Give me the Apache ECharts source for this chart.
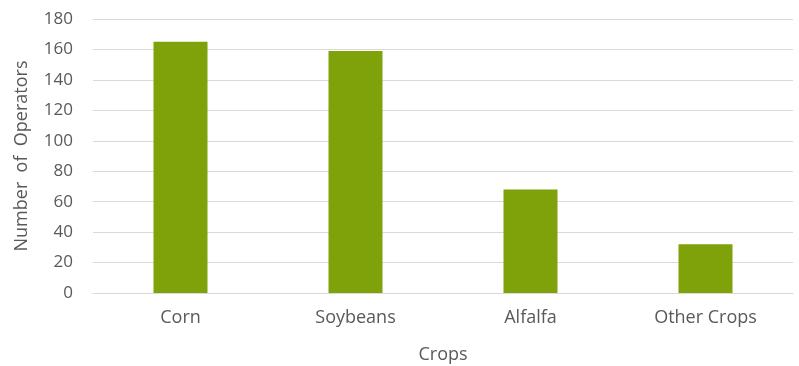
<!DOCTYPE html>
<html>
<head>
<meta charset="utf-8">
<script src="https://cdn.jsdelivr.net/npm/echarts@6/dist/echarts.min.js"></script>
<style>html,body{margin:0;padding:0;background:#fff;}#c{width:799px;height:366px;}</style>
</head>
<body>
<div id="c"></div>
<script>
const categories = ['Corn', 'Soybeans', 'Alfalfa', 'Other Crops'];
const operators = [165, 159, 68, 32];
const yTicks = [0, 20, 40, 60, 80, 100, 120, 140, 160, 180];

const chart = echarts.init(document.getElementById('c'));
const font = '"Open Sans", "Noto Sans", sans-serif';
chart.setOption({
  animation: false,
  grid: { left: 93, right: 6, top: 19, bottom: 73, outerBoundsMode: 'none', containLabel: false },
  xAxis: {
    type: 'category',
    data: categories,
    name: 'Crops',
    nameLocation: 'middle',
    nameGap: 53,
    nameTextStyle: { color: '#595959', fontSize: 18, fontFamily: font },
    axisLine: { show: true, lineStyle: { color: '#d9d9d9', width: 1 } },
    axisTick: { show: false },
    axisLabel: { color: '#595959', fontSize: 18, fontFamily: font, margin: 16 }
  },
  yAxis: {
    type: 'value',
    min: yTicks[0],
    max: yTicks[yTicks.length - 1],
    interval: 20,
    name: 'Number  of  Operators',
    nameLocation: 'middle',
    nameGap: 62,
    nameTextStyle: { color: '#595959', fontSize: 18, fontFamily: font },
    axisLine: { show: false },
    axisTick: { show: false },
    axisLabel: { color: '#595959', fontSize: 17, fontFamily: font, margin: 20 },
    splitLine: { lineStyle: { color: '#d9d9d9', width: 1 } }
  },
  series: [{
    type: 'bar',
    data: operators,
    barWidth: 54,
    itemStyle: { color: '#7fa20a' }
  }]
});
</script>
</body>
</html>
